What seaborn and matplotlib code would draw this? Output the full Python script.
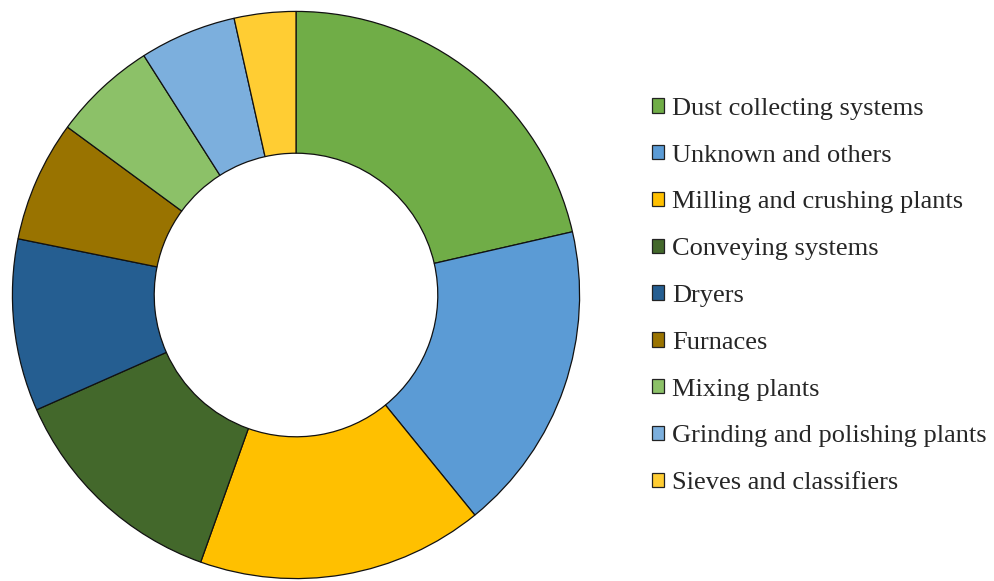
import matplotlib
matplotlib.use("Agg")
import matplotlib.pyplot as plt
from matplotlib.patches import Patch
import seaborn as sns

# Share of incidents by plant type (percent)
categories = [
    "Dust collecting systems",
    "Unknown and others",
    "Milling and crushing plants",
    "Conveying systems",
    "Dryers",
    "Furnaces",
    "Mixing plants",
    "Grinding and polishing plants",
    "Sieves and classifiers",
]
shares = [21.4, 17.7, 16.3, 12.9, 9.8, 6.9, 5.9, 5.5, 3.5]
colors = ["#70AD47", "#5B9BD5", "#FFC000", "#43682B", "#255E91",
          "#997300", "#8CC168", "#7CAFDD", "#FFCD33"]

sns.set_theme(style="white")
plt.rcParams["font.family"] = ["Liberation Serif", "DejaVu Serif"]

fig = plt.figure(figsize=(9.95, 5.81), dpi=100)
ax = fig.add_axes([11 / 995, 1 / 581, 570 / 995, 570 / 581])

ax.pie(
    shares,
    colors=colors,
    startangle=90,
    counterclock=False,
    radius=1.0,
    wedgeprops=dict(width=0.5, edgecolor="#111111", linewidth=0.9),
)
ax.set_xlim(-1.005, 1.005)
ax.set_ylim(-1.005, 1.005)
ax.set_aspect("equal")
ax.axis("off")

handles = [Patch(facecolor=c, edgecolor="#222222", linewidth=0.9) for c in colors]
fig.legend(
    handles,
    categories,
    loc="center left",
    bbox_to_anchor=(652 / 995, 1 - 296 / 581),
    frameon=False,
    fontsize=19,
    handlelength=0.47,
    handleheight=0.47,
    handletextpad=0.28,
    labelspacing=0.94,
    borderpad=0,
    borderaxespad=0,
)

fig.savefig("out.png", dpi=100, facecolor="white")
